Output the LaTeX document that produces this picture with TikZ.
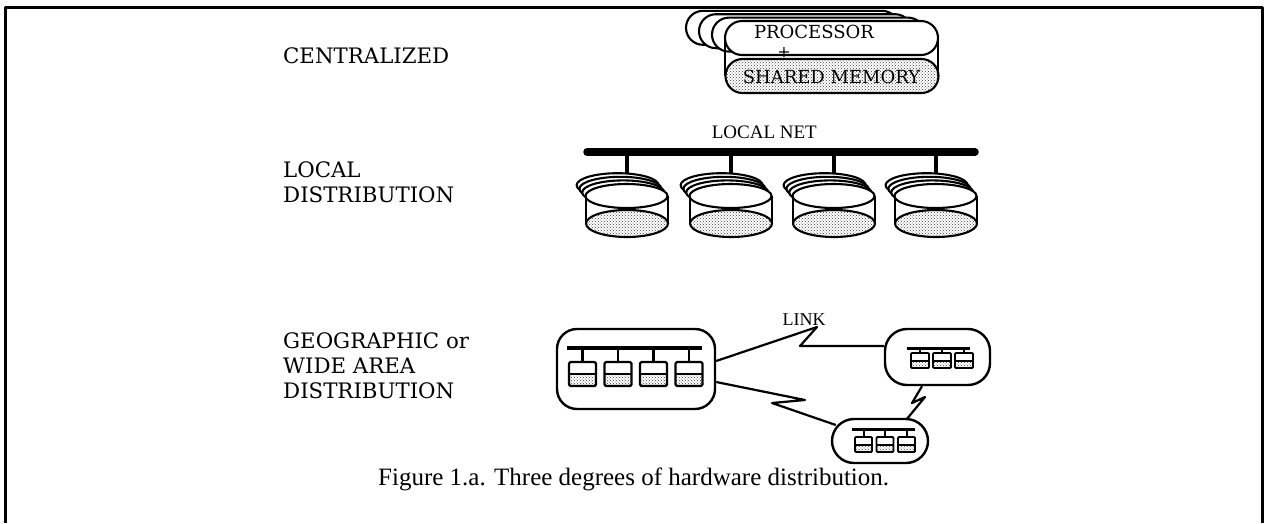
\documentclass[tikz,border=0pt]{standalone}
\usepackage{fontspec}
\setmainfont{Liberation Serif}
\newfontfamily\lblfont{DejaVu Serif}
\usetikzlibrary{patterns}
\begin{document}
\begin{tikzpicture}[x=1pt,y=-1pt,line join=round,
  dotfill/.style={pattern=crosshatch dots,pattern color=black!75},
  outl/.style={line width=2.1pt},
  lbl/.style={font=\lblfont\fontsize{21.3}{25}\selectfont,anchor=base west,inner sep=0pt},
  pill/.style={draw,outl,rectangle,rounded corners=17pt,minimum width=213pt,minimum height=34pt,inner sep=0pt},
  wbox/.style={draw,line width=2.4pt,rectangle,inner sep=0pt},
  link/.style={line width=2.2pt},
  bus/.style={line width=3.5pt}]
\useasboundingbox (0,0) rectangle (1268,523);
% frame
\draw[line width=3pt] (5.5,523) -- (5.5,7.5) -- (1262.5,7.5) -- (1262.5,523);
% left labels
\node[lbl] (lc) at (283,63) {CENTRALIZED};
\node[lbl] (ll1) at (283,177) {LOCAL};
\node[lbl] (ll2) at (283,202) {DISTRIBUTION};
\node[lbl] (lg1) at (283,348) {GEOGRAPHIC or};
\node[lbl] (lg2) at (283,373) {WIDE AREA};
\node[lbl] (lg3) at (283,398) {DISTRIBUTION};
% centralized
\foreach \k in {3,2,1}{
  \node[pill,fill=white] (bk\k) at (831.5-13*\k,38-3.4*\k) {};
}
\draw[outl] (725,38) -- (725,76);
\draw[outl] (938,38) -- (938,76);
\node[pill,dotfill] (mem) at (832,76) {};
\node[font=\lblfont\fontsize{18}{21}\selectfont,anchor=base,inner sep=0pt] (memt) at (831.5,83) {SHARED MEMORY};
\node[pill,fill=white] (proc) at (831.5,38) {};
\node[font=\lblfont\fontsize{18}{21}\selectfont,anchor=base,inner sep=0pt] (proct) at (814,38) {PROCESSOR};
\node[font=\lblfont\fontsize{16}{18}\selectfont,inner sep=0pt] (plus) at (784,52) {+};
% local distribution
\coordinate (busL) at (587,152);
\coordinate (busR) at (975,152);
\draw[line width=7.5pt,line cap=round] (busL) -- (busR);
\node[font=\fontsize{19}{22}\selectfont,anchor=base east,inner sep=0pt] (lnet) at (817,138) {LOCAL NET};
\foreach \c [count=\i] in {627,731,834,936}{
  \draw[line width=3.5pt] (\c,152) -- (\c,175);
  \foreach \k in {3,2,1}{
    \draw[outl,fill=white] (\c-1-2.8*\k,196-3.6*\k) ellipse [x radius=41pt,y radius=12pt];
  }
  \draw[outl] (\c-41,196) -- (\c-41,224);
  \draw[outl] (\c+41,196) -- (\c+41,224);
  \draw[outl,dotfill] (\c,223.5) ellipse [x radius=41pt,y radius=13.5pt];
  \draw[outl,fill=white] (\c-0.5,196) ellipse [x radius=41pt,y radius=12pt];
}
% wide area
\node[wbox,rounded corners=20pt,minimum width=158pt,minimum height=80pt] (wan1) at (636,369) {};
\node[wbox,rounded corners=22pt,minimum width=105pt,minimum height=56pt] (wan2) at (937.5,357) {};
\node[wbox,rounded corners=22pt,minimum width=96pt,minimum height=44pt] (wan3) at (880,441) {};
% big box content
\draw[bus] (567,348) -- (702,348);
\foreach \x in {569,604.5,640,675.5}{
  \draw[line width=2.5pt] (\x+13.5,348) -- (\x+13.5,362);
  \fill[dotfill] (\x,374) rectangle (\x+27,386);
  \draw[line width=1.8pt] (\x,374) -- (\x+27,374);
  \draw[line width=2.2pt,rounded corners=1.5pt] (\x,362) rectangle (\x+27,386);
}
% upper small box content
\draw[line width=3pt] (907,348) -- (970,348);
\foreach \x in {911,933,955}{
  \draw[line width=2pt] (\x+9,348) -- (\x+9,353);
  \fill[dotfill] (\x,361) rectangle (\x+18,368);
  \draw[line width=1.5pt] (\x,361) -- (\x+18,361);
  \draw[line width=1.9pt,rounded corners=1pt] (\x,353) rectangle (\x+18,368);
}
% lower small box content
\draw[line width=3pt] (852,429) -- (915,429);
\foreach \x in {855,876.5,898}{
  \draw[line width=2pt] (\x+8.5,429) -- (\x+8.5,437);
  \fill[dotfill] (\x,445) rectangle (\x+17,452);
  \draw[line width=1.5pt] (\x,445) -- (\x+17,445);
  \draw[line width=1.9pt,rounded corners=1pt] (\x,437) rectangle (\x+17,452);
}
% links
\draw[link] ([yshift=8pt]wan1.east) -- (817,327) -- (800,346) -- ([yshift=11pt]wan2.west);
\draw[link] ([yshift=-13pt]wan1.east) -- (805,400) -- (772,403) -- ([xshift=5pt,yshift=16pt]wan3.west);
\draw[link] ([xshift=-15.5pt]wan2.south) -- (912,403) -- (925,397) -- ([xshift=27pt,yshift=-1pt]wan3.north);
\node[font=\fontsize{18}{22}\selectfont,anchor=base,inner sep=0pt] (linkt) at (804,325) {LINK};
% caption
\node[font=\fontsize{25}{29}\selectfont,anchor=base west,inner sep=0pt] (cap) at (378,485) {Figure 1.a. Three degrees of hardware distribution.};
\end{tikzpicture}
\end{document}
